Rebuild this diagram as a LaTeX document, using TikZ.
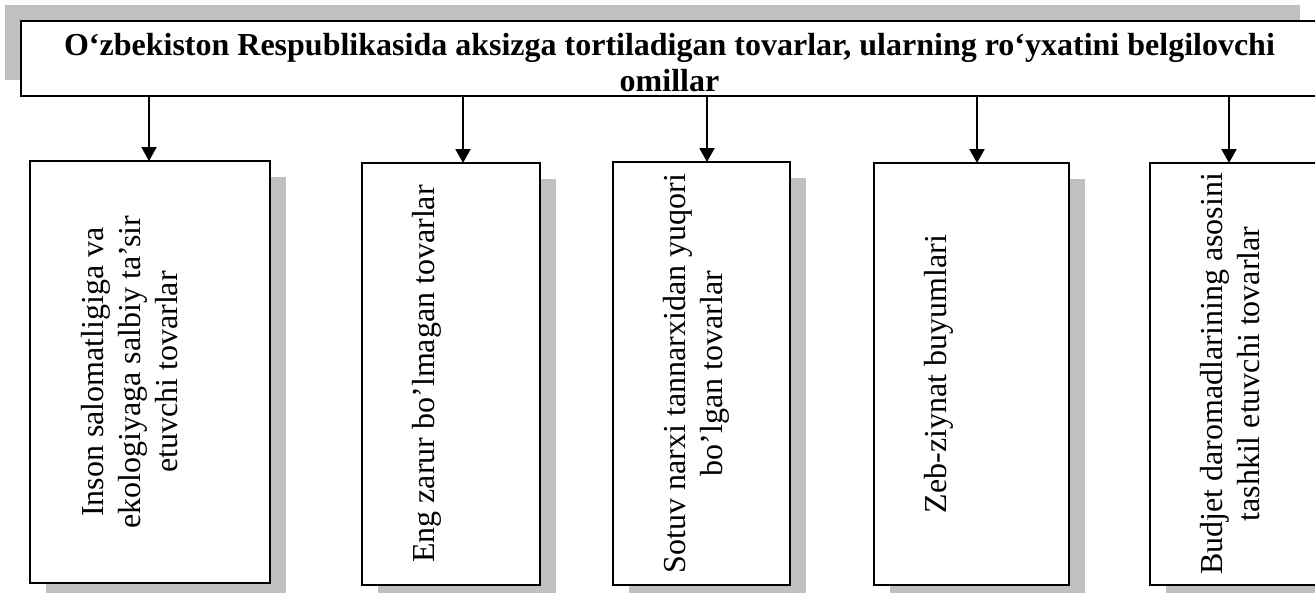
\documentclass[tikz,border=0pt]{standalone}
\usepackage{fontspec}
\setmainfont{Liberation Serif}
\usetikzlibrary{arrows.meta,shadows}
\definecolor{shadowgray}{RGB}{192,192,192}
\begin{document}
\begin{tikzpicture}[x=1pt,y=-1pt,
  box/.style={draw, fill=white, line width=1.8pt, outer sep=0pt, inner sep=0pt, anchor=north west,
    drop shadow={shadow xshift=16pt, shadow yshift=-16pt, fill=shadowgray, opacity=1}},
  titlebox/.style={draw, fill=white, line width=1.6pt, outer sep=0pt, inner sep=0pt, anchor=north west,
    minimum width=1380pt, minimum height=75pt},
  titletext/.style={inner sep=0pt, anchor=north, align=center, font=\fontsize{32}{36}\selectfont\bfseries},
  vtext/.style={inner sep=0pt, anchor=north, rotate=90, align=center, font=\fontsize{32}{37}\selectfont},
  arr/.style={line width=2pt, -{Triangle[width=15pt,length=14pt]}},
  shade/.style={fill=shadowgray}]
\useasboundingbox (0,0) rectangle (1315,592);
% title
\fill[shade] (5,5) rectangle (1300,80);
\node[titlebox] (title) at (21,21) {};
\node[titletext] (tt) at ([xshift=648.5pt,yshift=-12pt]title.north west) {O‘zbekiston Respublikasida aksizga tortiladigan tovarlar, ularning ro‘yxatini belgilovchi\\omillar};
% boxes
\node[box, minimum width=240pt, minimum height=422pt] (b1) at (30,161) {};
\node[box, minimum width=178pt, minimum height=422pt] (b2) at (362,163) {};
\node[box, minimum width=177pt, minimum height=423pt] (b3) at (613,162) {};
\node[box, minimum width=195pt, minimum height=422pt] (b4) at (874,163) {};
\node[box, minimum width=260pt, minimum height=422pt] (b5) at (1150,163) {};
% texts
\node[vtext] (t1) at ([xshift=51pt]b1.west) {Inson salomatligiga va\\ekologiyaga salbiy ta’sir\\etuvchi tovarlar};
\node[vtext] (t2) at ([xshift=50pt]b2.west) {Eng zarur bo’lmagan tovarlar};
\node[vtext] (t3) at ([xshift=50pt]b3.west) {Sotuv narxi tannarxidan yuqori\\bo’lgan tovarlar};
\node[vtext] (t4) at ([xshift=50pt]b4.west) {Zeb-ziynat buyumlari};
\node[vtext] (t5) at ([xshift=50pt]b5.west) {Budjet daromadlarining asosini\\tashkil etuvchi tovarlar};
% arrows
\coordinate (a1) at (149,0);
\coordinate (a2) at (463,0);
\coordinate (a3) at (707,0);
\coordinate (a4) at (977,0);
\coordinate (a5) at (1229,0);
\draw[arr] (title.south -| a1) -- (b1.north -| a1);
\draw[arr] (title.south -| a2) -- (b2.north -| a2);
\draw[arr] (title.south -| a3) -- (b3.north -| a3);
\draw[arr] (title.south -| a4) -- (b4.north -| a4);
\draw[arr] (title.south -| a5) -- (b5.north -| a5);
\end{tikzpicture}
\end{document}
